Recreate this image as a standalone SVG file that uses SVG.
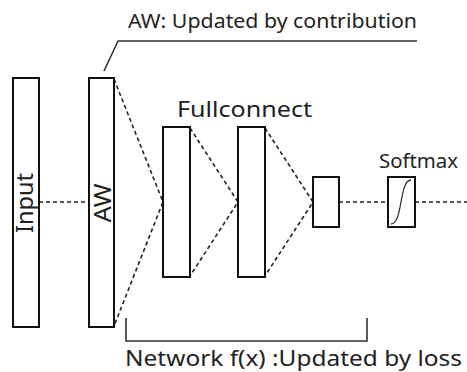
<svg xmlns="http://www.w3.org/2000/svg" width="467" height="372" viewBox="0 0 467 372">
<style>
.box{fill:#fff;stroke:#111;stroke-width:2}
.dash{fill:none;stroke:#222;stroke-width:1.6;stroke-dasharray:4 3}
.line{fill:none;stroke:#333;stroke-width:1.6}
.t{font-family:"Noto Sans","Liberation Sans",Arial,sans-serif;fill:#222}
</style>
<rect width="467" height="372" fill="#fff"/>
<g id="connectors">
<line class="dash" x1="39" y1="202" x2="89" y2="202"/>
<path class="dash" d="M114,79 L163,202 L114,326"/>
<path class="dash" d="M190,128 L238,202 L190,276"/>
<path class="dash" d="M265,128 L313,202 L265,276"/>
<line class="dash" x1="339" y1="202" x2="388" y2="202"/>
<line class="dash" x1="415" y1="202" x2="467" y2="202"/>
</g>
<g id="input">
<rect class="box" x="13" y="78" width="26" height="249"/>
<text class="t" font-size="24" transform="translate(33,203) rotate(-90)" text-anchor="middle" textLength="60" lengthAdjust="spacingAndGlyphs">Input</text>
</g>
<g id="aw">
<rect class="box" x="89" y="78" width="25" height="249"/>
<text class="t" font-size="24" transform="translate(111,203) rotate(-90)" text-anchor="middle" textLength="39" lengthAdjust="spacingAndGlyphs">AW</text>
</g>
<g id="aw-label">
<path class="line" d="M104,71 L118,41 L417,41"/>
<text class="t" x="128" y="28" font-size="20" textLength="289" lengthAdjust="spacingAndGlyphs">AW: Updated by contribution</text>
</g>
<g id="fc1">
<rect class="box" x="163" y="127" width="27" height="150"/>
</g>
<g id="fc2">
<rect class="box" x="238" y="127" width="27" height="150"/>
</g>
<g id="fullconnect-label">
<text class="t" x="177" y="117" font-size="21" textLength="135" lengthAdjust="spacingAndGlyphs">Fullconnect</text>
</g>
<g id="out">
<rect class="box" x="313" y="177" width="26" height="50"/>
</g>
<g id="softmax">
<rect class="box" x="388" y="177" width="27" height="50"/>
<path d="M391,224 C403,224 399,180 411,180" fill="none" stroke="#333" stroke-width="1.3"/>
<text class="t" x="379" y="168" font-size="20" textLength="79" lengthAdjust="spacingAndGlyphs">Softmax</text>
</g>
<g id="network-label">
<path class="line" d="M126,318 L126,341 L367,341 L367,318"/>
<text class="t" x="125" y="366" font-size="22" textLength="337" lengthAdjust="spacingAndGlyphs">Network f(x) :Updated by loss</text>
</g>
</svg>
